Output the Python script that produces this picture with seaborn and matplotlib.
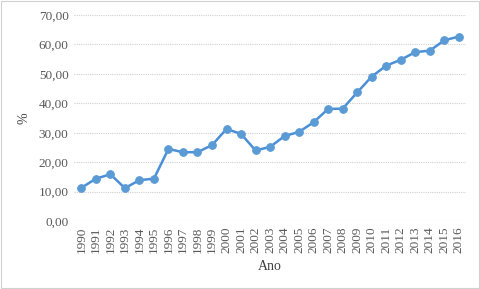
import numpy as np
import pandas as pd
import seaborn as sns
import matplotlib.pyplot as plt
from matplotlib.patches import Rectangle

# data
anos = list(range(1990, 2017))
valores = [11.3, 14.4, 15.9, 11.2, 13.9, 14.4, 24.5, 23.4, 23.4, 25.8,
           31.3, 29.6, 24.0, 25.2, 28.9, 30.3, 33.6, 38.1, 38.2, 43.7,
           49.1, 52.8, 54.8, 57.4, 57.9, 61.4, 62.7]
y_ticks = [0, 10, 20, 30, 40, 50, 60, 70]

df = pd.DataFrame({'Ano': anos, 'pct': valores})

sns.set_style('white')
plt.rcParams['font.family'] = ['Liberation Serif', 'DejaVu Serif']

fig = plt.figure(figsize=(4.81, 2.89), dpi=100)
ax = fig.add_axes([0.154, 0.235, 0.815, 0.713])

sns.lineplot(data=df, x='Ano', y='pct', ax=ax, color='#4a8fd8', linewidth=1.8,
             marker='o', markersize=5.5, markerfacecolor='#5b9bd5',
             markeredgecolor='#5b9bd5')

ax.set_xlim(1989.5, 2016.5)
ax.set_ylim(0, 70)
ax.set_yticks(y_ticks)
ax.yaxis.set_major_formatter(plt.FuncFormatter(lambda v, p: ('%.2f' % v).replace('.', ',')))
ax.set_xticks(anos)
ax.set_xticklabels([str(a) for a in anos], rotation=90)
ax.tick_params(axis='both', labelsize=9.5, labelcolor='#595959', length=0, pad=4)
ax.grid(axis='y', color='#d0d0d0', linestyle=(0, (1, 1)), linewidth=0.8)
ax.set_axisbelow(True)
for s in ax.spines.values():
    s.set_visible(False)

ax.set_xlabel('Ano', fontsize=10, color='#404040', labelpad=5)
ax.set_ylabel('%', fontsize=10, color='#404040', labelpad=6)

fig.patches.append(Rectangle((0.002, 0.004), 0.994, 0.992, transform=fig.transFigure,
                             fill=False, edgecolor='#d0d0d0', linewidth=0.8))

fig.savefig('out.png', dpi=100)
